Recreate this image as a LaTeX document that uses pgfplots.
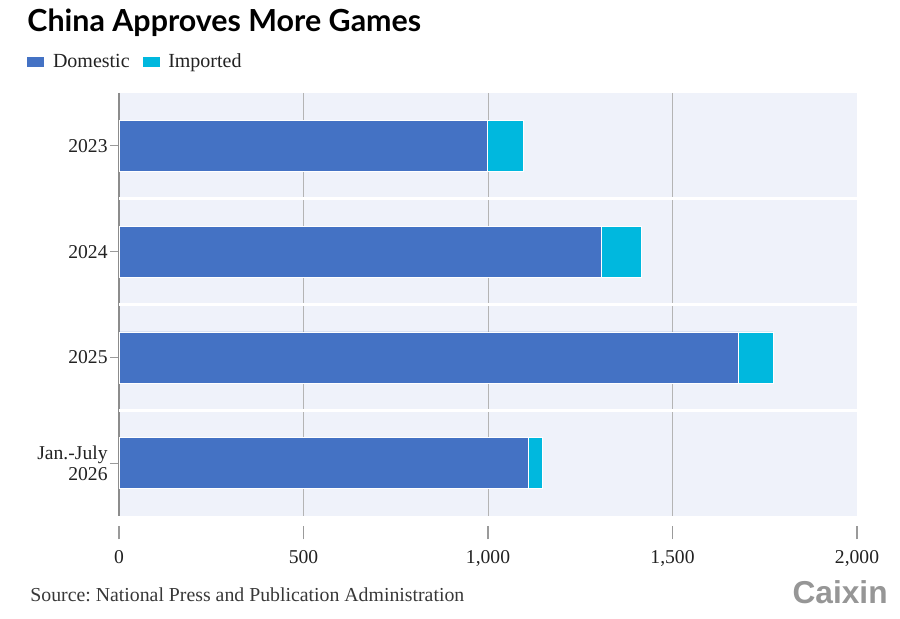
\documentclass[border=0pt]{standalone}
\usepackage{pgfplots}
\pgfplotsset{compat=1.18}
\usepackage{fontspec}
\setmainfont{Liberation Serif}
\setsansfont{Liberation Sans}
\newfontfamily\titlefont{Lato}
\frenchspacing
\definecolor{domcol}{HTML}{4472C4}
\definecolor{impcol}{HTML}{00B8DE}
\definecolor{bgcol}{HTML}{EFF2FA}
\definecolor{gridgray}{HTML}{B4B4B4}
\definecolor{axisgray}{HTML}{8C8C8C}
\definecolor{tickgray}{HTML}{9A9A9A}
\definecolor{txt}{HTML}{222222}
\definecolor{logogray}{HTML}{969696}
\newcommand{\tkl}[1]{\vtop{\offinterlineskip\halign{\hfil##\hfil\cr\textcolor{tickgray}{\rule{0.6pt}{6.5pt}}\cr\noalign{\kern5.5pt}#1\cr}}}
\begin{document}
\begin{tikzpicture}
\path[use as bounding box] (0,0) rectangle (450pt,309.5pt);
\node[anchor=base west, inner sep=0pt, font=\titlefont\bfseries\fontsize{15.2}{18}\selectfont, text=black] at (13.5pt,293.5pt) {China Approves More Games};
\begin{axis}[
  at={(59.5pt,51.5pt)}, anchor=south west,
  scale only axis,
  width=369pt, height=211.5pt,
  xbar stacked,
  bar width=25.5pt,
  xmin=0, xmax=2000,
  ymin=-0.5, ymax=3.5,
  y dir=reverse,
  axis background/.style={fill=bgcol},
  axis line style={draw=none},
  xtick={0,500,1000,1500,2000},
  xticklabels={\tkl{0},\tkl{500},\tkl{1,000},\tkl{1,500},\tkl{2,000}},
  xtick style={draw=none},
  xtick pos=bottom,
  xticklabel style={anchor=north, inner sep=0pt, yshift=-5pt, font=\fontsize{9.8}{11}\selectfont, text=txt},
  minor xtick={500,1000,1500},
  minor tick length=0pt,
  xminorgrids,
  minor x grid style={gridgray, line width=0.5pt},
  extra x ticks={0},
  extra x tick labels={},
  extra x tick style={grid=major, major grid style={axisgray, line width=0.9pt}, major tick length=0pt},
  ytick={0,1,2,3},
  yticklabels={2023,2024,2025,{Jan.-July\\2026}},
  ytick pos=left,
  ytick align=outside,
  major tick length=4.5pt,
  ytick style={tickgray, line width=0.6pt},
  yticklabel style={align=right, inner sep=0pt, xshift=-1pt, font=\fontsize{9.8}{10.5}\selectfont, text=txt},
  extra y ticks={0.5,1.5,2.5},
  extra y tick labels={},
  extra y tick style={grid=major, major grid style={white, line width=1.6pt}, major tick length=0pt},
  legend columns=2,
  legend style={at={(axis description cs:-0.126,1.073)}, anchor=west, draw=none, fill=none, inner sep=0pt,
    font=\fontsize{10}{11}\selectfont, text=txt,
    /tikz/every odd column/.append style={column sep=2pt},
    /tikz/every even column/.append style={column sep=4pt}},
  legend image code/.code={\fill[#1] (0pt,-2.75pt) rectangle (9pt,2.75pt);},
]
\addplot[fill=domcol, draw=white, line width=0.3pt] coordinates {(998,0) (1307,1) (1678,2) (1110,3)};
\addlegendentry{Domestic}
\addplot[fill=impcol, draw=white, line width=0.3pt] coordinates {(97,0) (109,1) (94,2) (37,3)};
\addlegendentry{Imported}
\end{axis}
\node[anchor=base west, inner sep=0pt, font=\fontsize{9.9}{11}\selectfont, text=txt!90] at (15pt,8.5pt) {Source: National Press and Publication Administration};
\node[anchor=base east, inner sep=0pt, text=logogray] at (444pt,7.5pt) {\resizebox{47.5pt}{!}{\sffamily\bfseries Caixin}};
\end{tikzpicture}
\end{document}
